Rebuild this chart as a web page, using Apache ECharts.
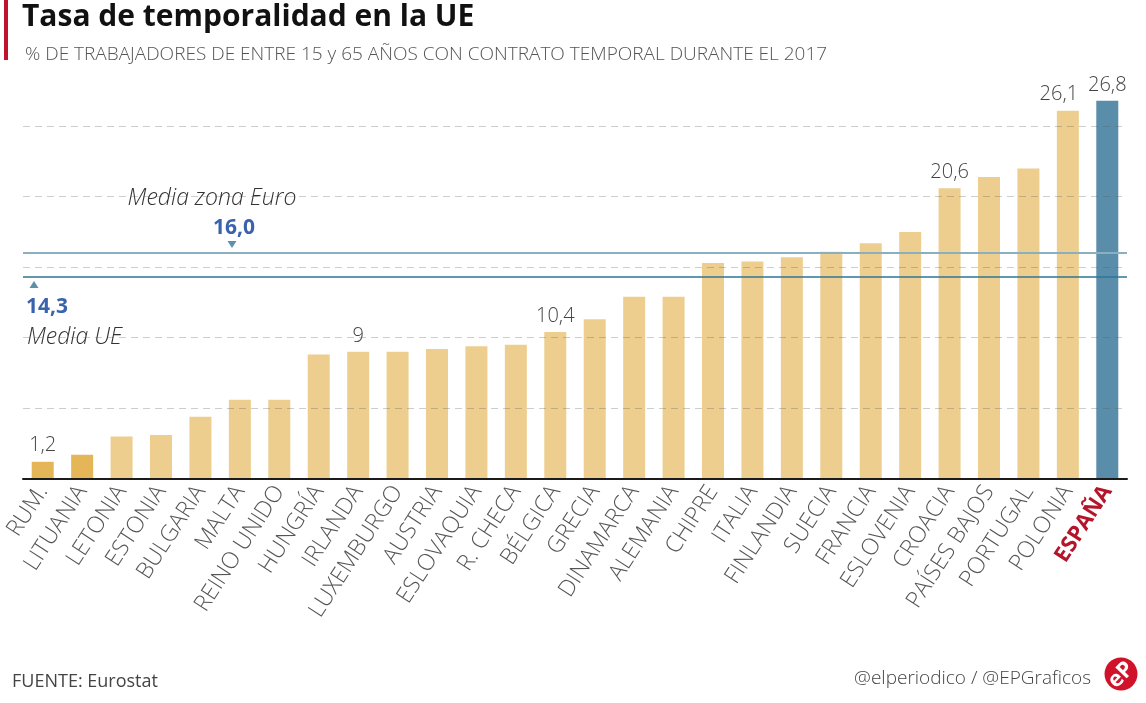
<!DOCTYPE html>
<html>
<head>
<meta charset="utf-8">
<script src="https://cdn.jsdelivr.net/npm/echarts@6/dist/echarts.min.js"></script>
<style>
html,body{margin:0;padding:0;background:#fff;}
#chart{width:1146px;height:703px;}
</style>
</head>
<body>
<div id="chart"></div>
<script>
// ---- data ----
const categories = ['RUM.','LITUANIA','LETONIA','ESTONIA','BULGARIA','MALTA','REINO UNIDO','HUNGRÍA','IRLANDA','LUXEMBURGO','AUSTRIA','ESLOVAQUIA','R. CHECA','BÉLGICA','GRECIA','DINAMARCA','ALEMANIA','CHIPRE','ITALIA','FINLANDIA','SUECIA','FRANCIA','ESLOVENIA','CROACIA','PAÍSES BAJOS','PORTUGAL','POLONIA','ESPAÑA'];
const values = [1.2,1.7,3.0,3.1,4.4,5.6,5.6,8.8,9.0,9.0,9.2,9.4,9.5,10.4,11.3,12.9,12.9,15.3,15.4,15.7,16.1,16.7,17.5,20.6,21.4,22.0,26.1,26.8];
const labelledCategories = ['RUM.','IRLANDA','BÉLGICA','CROACIA','POLONIA','ESPAÑA'];
const darkCategories = ['RUM.','LITUANIA'];
const highlightCategory = 'ESPAÑA';
const euroAvg = 16.0;
const ueAvg = 14.3;
const yMin = 0, yMax = 30, yStep = 5;

const titleText = 'Tasa de temporalidad en la UE';
const subtitleText = '% DE TRABAJADORES DE ENTRE 15 y 65 AÑOS CON CONTRATO TEMPORAL DURANTE EL 2017';
const sourceText = 'FUENTE: Eurostat';
const creditText = '@elperiodico / @EPGraficos';

// ---- style ----
const FONT = "'Open Sans', 'Noto Sans', sans-serif";
const C_LIGHT = '#EDCE8F';
const C_DARK = '#E5B657';
const C_ES = '#5A8DAA';
const C_BLUE_TXT = '#3A63AE';

const fmt = v => Number.isInteger(v) ? String(v) : v.toFixed(1).replace('.', ',');
const fmt1 = v => v.toFixed(1).replace('.', ',');

const chart = echarts.init(document.getElementById('chart'), null, {renderer: 'canvas'});

const barData = categories.map((c, i) => {
  let color = C_LIGHT;
  if (darkCategories.includes(c)) color = C_DARK;
  if (c === highlightCategory) color = C_ES;
  const item = {
    value: values[i],
    itemStyle: {color: color},
    label: {show: labelledCategories.includes(c)}
  };
  if (c === 'POLONIA') item.label.offset = [-9, 0];
  return item;
});

chart.setOption({
  animation: false,
  backgroundColor: '#fff',
  grid: {left: 23, right: 19, top: 55.7, bottom: 224.3, containLabel: false},
  xAxis: {
    type: 'category',
    data: categories,
    axisLine: {lineStyle: {color: '#1b1b1b', width: 2}},
    axisTick: {show: false},
    axisLabel: {
      interval: 0,
      rotate: 57,
      margin: 9,
      fontFamily: FONT,
      fontWeight: 300,
      fontSize: 23,
      color: '#555',
      formatter: v => v === highlightCategory ? '{es|' + v + '}' : v,
      rich: {es: {fontFamily: FONT, fontWeight: 'bold', fontSize: 22, color: '#B5152B'}}
    },
    z: 5
  },
  yAxis: {
    type: 'value',
    min: yMin, max: yMax, interval: yStep,
    axisLine: {show: false},
    axisTick: {show: false},
    axisLabel: {show: false},
    splitLine: {show: true, showMinLine: false, showMaxLine: false,
      lineStyle: {color: 'rgba(90,90,90,0.3)', width: 1.2, type: [7, 5]}},
    z: 4
  },
  series: [{
    type: 'bar',
    data: barData,
    barWidth: 22,
    label: {
      position: 'top',
      distance: 6,
      fontFamily: FONT,
      fontWeight: 300,
      fontSize: 20,
      color: '#444',
      formatter: p => fmt(p.value)
    },
    markLine: {
      silent: true,
      symbol: 'none',
      z: 6,
      label: {show: false},
      lineStyle: {type: 'solid'},
      data: [
        {yAxis: euroAvg, lineStyle: {color: '#8AAFC1', width: 2, type: 'solid'}},
        {yAxis: ueAvg, lineStyle: {color: '#2E7694', width: 1.5, type: 'solid'}}
      ]
    }
  }]
});

const yE = chart.convertToPixel({yAxisIndex: 0}, euroAvg);
const yU = chart.convertToPixel({yAxisIndex: 0}, ueAvg);

chart.setOption({
  graphic: [
    {type: 'rect', left: 4, top: 0, shape: {width: 4, height: 60}, style: {fill: '#C3122F'}},
    {type: 'text', x: 22, y: 17, style: {text: titleText, font: "bold 30px 'Open Sans', sans-serif", fill: '#111', textVerticalAlign: 'middle'}},
    {type: 'text', x: 25, y: 55, style: {text: subtitleText, font: "300 19px 'Open Sans', sans-serif", fill: '#555', textVerticalAlign: 'middle'}},
    // euro zone average annotation
    {type: 'text', x: 212, y: yE - 55, z: 10, style: {text: 'Media zona Euro', font: "italic 300 23px 'Open Sans', sans-serif", fill: '#333', textAlign: 'center', textVerticalAlign: 'middle'}},
    {type: 'text', x: 234, y: yE - 25, z: 10, style: {text: fmt1(euroAvg), font: "bold 21px 'Open Sans', sans-serif", fill: C_BLUE_TXT, textAlign: 'center', textVerticalAlign: 'middle'}},
    {type: 'polygon', z: 10, shape: {points: [[227.5, yE - 12], [236.5, yE - 12], [232, yE - 5]]}, style: {fill: '#5B91A9'}},
    // EU average annotation
    {type: 'polygon', z: 10, shape: {points: [[29.5, yU + 11], [38.5, yU + 11], [34, yU + 4]]}, style: {fill: '#5B91A9'}},
    {type: 'text', x: 26, y: yU + 30, z: 10, style: {text: fmt1(ueAvg), font: "bold 21px 'Open Sans', sans-serif", fill: C_BLUE_TXT, textVerticalAlign: 'middle'}},
    {type: 'text', x: 27, y: yU + 60, z: 10, style: {text: 'Media UE', font: "italic 300 23px 'Open Sans', sans-serif", fill: '#333', textVerticalAlign: 'middle'}},
    // footer
    {type: 'text', x: 12, y: 682, style: {text: sourceText, font: "18px 'Open Sans', sans-serif", fill: '#444', textVerticalAlign: 'middle'}},
    {type: 'text', x: 1091, y: 679, style: {text: creditText, font: "300 19px 'Open Sans', sans-serif", fill: '#444', textAlign: 'right', textVerticalAlign: 'middle'}},
    {type: 'circle', shape: {cx: 1121, cy: 674, r: 16.5}, style: {fill: '#D1122B'}},
    {type: 'text', x: 1121, y: 675, rotation: 0.8, style: {text: 'eP', font: "bold 22px 'Open Sans', sans-serif", fill: '#fff', textAlign: 'center', textVerticalAlign: 'middle'}}
  ]
});
</script>
</body>
</html>
